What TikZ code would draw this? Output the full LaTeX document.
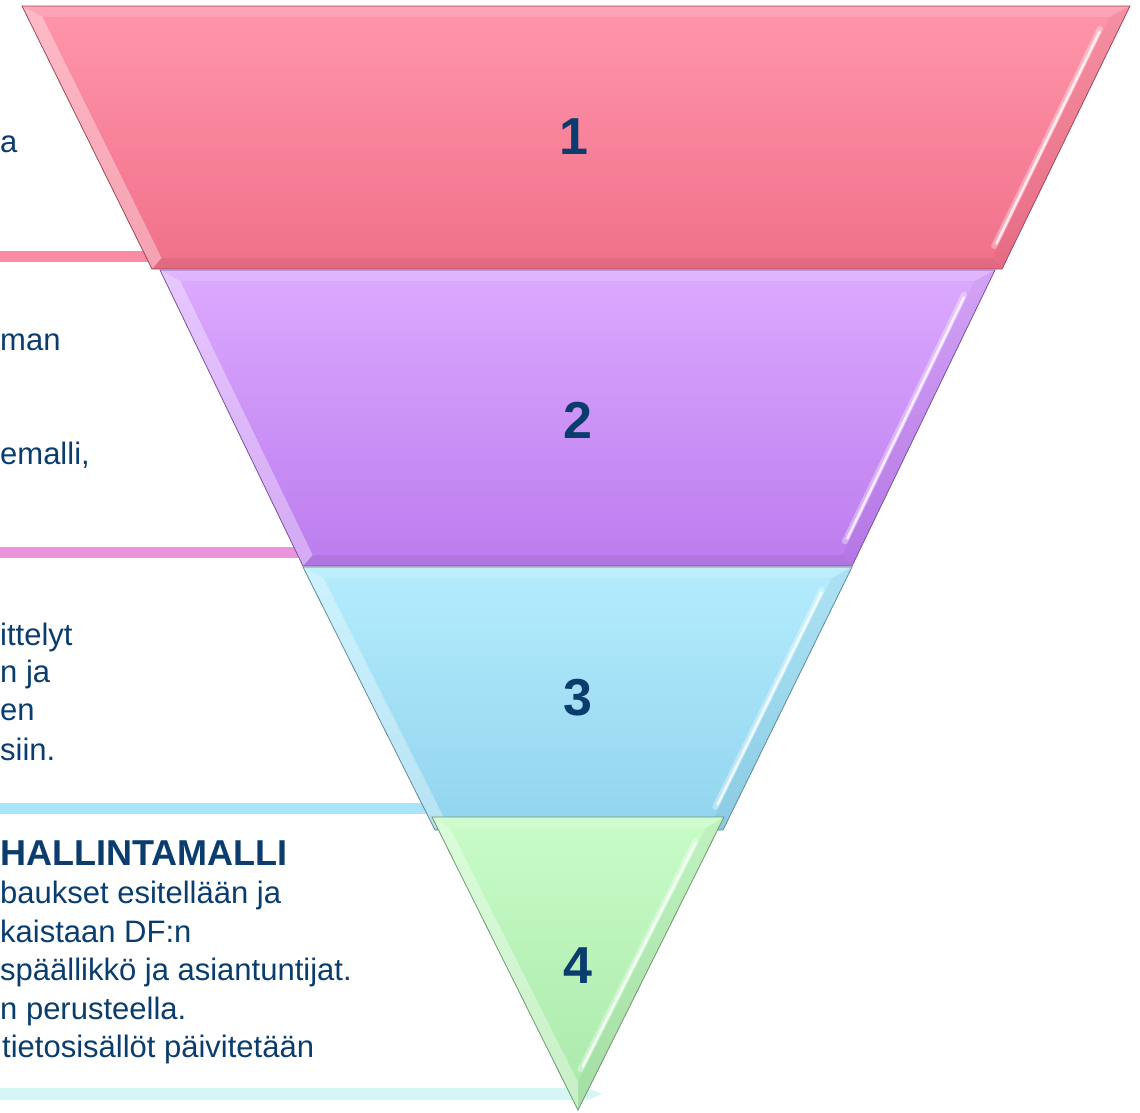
\documentclass[tikz,border=0pt]{standalone}
\usepackage{fontspec}
\setmainfont{Liberation Sans}
\usetikzlibrary{calc}
\definecolor{txt}{RGB}{10,61,110}
\definecolor{pinkT}{RGB}{255,150,170}
\definecolor{pinkB}{RGB}{240,112,138}
\definecolor{purT}{RGB}{220,170,255}
\definecolor{purB}{RGB}{188,124,238}
\definecolor{cyaT}{RGB}{180,236,253}
\definecolor{cyaB}{RGB}{146,212,238}
\definecolor{grnT}{RGB}{200,252,200}
\definecolor{grnB}{RGB}{170,232,170}
\definecolor{lineA}{RGB}{249,140,162}
\definecolor{lineB}{RGB}{234,148,220}
\definecolor{lineC}{RGB}{170,228,250}
\definecolor{lineD}{RGB}{214,246,244}
\tikzset{
  bodytext/.style={anchor=base west,inner sep=0pt,text=txt,font=\fontsize{31}{38}\selectfont},
  titletext/.style={anchor=base west,inner sep=0pt,text=txt,font=\bfseries\fontsize{36}{40}\selectfont},
  numtext/.style={anchor=base,inner sep=0pt,text=txt,font=\bfseries\fontsize{52}{56}\selectfont},
  barline/.style={line width=11pt},
  outlinebd/.style={line width=.8pt},
  glowA/.style={white,opacity=.35,line width=6pt,line cap=round},
  glowB/.style={white,opacity=.75,line width=2.5pt,line cap=round}
}
\newcommand\bevelband[9]{%
  \pgfmathsetmacro\ft{11/(#3-#2)}%
  \pgfmathsetmacro\fb{1-11/(#3-#2)}%
  \coordinate (#1A) at (#4,#2);
  \coordinate (#1B) at (#5,#2);
  \coordinate (#1C) at (#6,#3);
  \coordinate (#1D) at (#7,#3);
  \coordinate (#1a) at ($(#1A)!\ft!(#1D)+(15,0)$);
  \coordinate (#1b) at ($(#1B)!\ft!(#1C)+(-15,0)$);
  \coordinate (#1c) at ($(#1B)!\fb!(#1C)+(-15,0)$);
  \coordinate (#1d) at ($(#1A)!\fb!(#1D)+(15,0)$);
  \shade[top color=#8,bottom color=#9] (#1A)--(#1B)--(#1C)--(#1D)--cycle;
  \fill[white,opacity=.15] (#1A)--(#1B)--(#1b)--(#1a)--cycle;
  \fill[white,opacity=.35] (#1A)--(#1a)--(#1d)--(#1D)--cycle;
  \fill[black,opacity=.04] (#1B)--(#1C)--(#1c)--(#1b)--cycle;
  \fill[black,opacity=.06] (#1D)--(#1d)--(#1c)--(#1C)--cycle;
  \draw[glowA] ($(#1b)!.05!(#1c)+(-4,0)$) -- ($(#1b)!.95!(#1c)+(-4,0)$);
  \draw[glowB] ($(#1b)!.06!(#1c)+(-3,0)$) -- ($(#1b)!.94!(#1c)+(-3,0)$);
  \draw[#9!65!black,outlinebd] (#1A)--(#1B)--(#1C)--(#1D)--cycle;
}
\begin{document}
\begin{tikzpicture}[x=1pt,y=-1pt]
\useasboundingbox (0,0) rectangle (1140,1112);
\clip (0,0) rectangle (1140,1112);
% horizontal bars
\coordinate (l1s) at (0,256);   \coordinate (l1e) at (160,256);
\coordinate (l2s) at (0,552);   \coordinate (l2e) at (310,552);
\coordinate (l3s) at (0,808.5); \coordinate (l3e) at (440,808.5);
\draw[lineA,barline] (l1s) -- (l1e);
\draw[lineB,barline] (l2s) -- (l2e);
\draw[lineC,barline] (l3s) -- (l3e);
\fill[lineD] (0,1088) -- (588,1088) -- (602,1094) -- (588,1100) -- (0,1100) -- cycle;
% bands
\bevelband{b1}{6}{269}{22}{1130}{1002}{152}{pinkT}{pinkB}
\bevelband{b2}{270}{566}{160}{995}{852}{303}{purT}{purB}
\bevelband{b3}{567}{830}{303}{852}{723}{435}{cyaT}{cyaB}
% band 4 triangle
\coordinate (b4A) at (432,817);
\coordinate (b4B) at (724,817);
\coordinate (b4C) at (578,1110);
\coordinate (b4a) at (450,828);
\coordinate (b4b) at (706,828);
\coordinate (b4c) at (578,1082);
\shade[top color=grnT,bottom color=grnB] (b4A)--(b4B)--(b4C)--cycle;
\fill[white,opacity=.15] (b4A)--(b4B)--(b4b)--(b4a)--cycle;
\fill[white,opacity=.35] (b4A)--(b4a)--(b4c)--(b4C)--cycle;
\fill[black,opacity=.04] (b4B)--(b4C)--(b4c)--(b4b)--cycle;
\draw[glowA] ($(b4b)!.05!(b4c)+(-4,0)$) -- ($(b4b)!.95!(b4c)+(-4,0)$);
\draw[glowB] ($(b4b)!.06!(b4c)+(-3,0)$) -- ($(b4b)!.94!(b4c)+(-3,0)$);
\draw[grnB!65!black,outlinebd] (b4A)--(b4B)--(b4C)--cycle;
% numbers
\node[numtext] (n1) at (574,154) {1};
\node[numtext] (n2) at (578,438) {2};
\node[numtext] (n3) at (578,715) {3};
\node[numtext] (n4) at (578,983) {4};
% left texts (fragments visible at the left edge)
\node[bodytext] (t1a) at (0,152) {a};
\node[bodytext] (t2a) at (0,350) {man};
\node[bodytext] (t2b) at (0,464) {emalli,};
\node[bodytext] (t3a) at (0,645) {ittelyt};
\node[bodytext] (t3b) at (0,682) {n ja};
\node[bodytext] (t3c) at (0,720) {en};
\node[bodytext] (t3d) at (0,760) {siin.};
\node[titletext] (t4a) at (0,865) {HALLINTAMALLI};
\node[bodytext] (t4b) at (0,903) {baukset esitellään ja};
\node[bodytext] (t4c) at (0,942) {kaistaan DF:n};
\node[bodytext] (t4d) at (0,980) {späällikkö ja asiantuntijat.};
\node[bodytext] (t4e) at (0,1019) {n perusteella.};
\node[bodytext] (t4f) at (2,1057) {tietosisällöt päivitetään};
\end{tikzpicture}
\end{document}
